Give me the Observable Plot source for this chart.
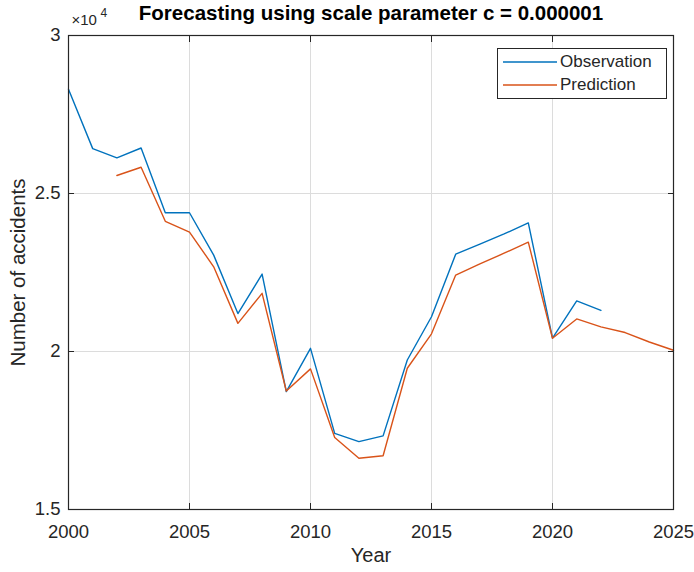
<!DOCTYPE html>
<html>
<head>
<meta charset="utf-8">
<script src="https://cdn.jsdelivr.net/npm/d3@7"></script>
<script src="https://cdn.jsdelivr.net/npm/@observablehq/plot@0.6"></script>
<style>
  html, body { margin: 0; padding: 0; background: #fff; }
  #wrap { position: relative; width: 694px; height: 572px; font-family: "Liberation Sans", Arial, sans-serif; }
  #legend { position: absolute; left: 497px; top: 48px; width: 170px; height: 51px; border: 1px solid #262626; background: #fff; box-sizing: border-box; font-size: 17px; color: #262626; }
  .item { position: absolute; left: 5px; height: 20px; display: flex; align-items: center; }
  .item svg { margin-right: 3px; }
</style>
</head>
<body>
<div id="wrap"></div>
<script>
const title = "Forecasting using scale parameter c = 0.000001";
const xLabel = "Year";
const yLabel = "Number of accidents";
const seriesNames = ["Observation", "Prediction"];
const seriesColors = ["#0072BD", "#D95319"];

const obsYears = [2000, 2001, 2002, 2003, 2004, 2005, 2006, 2007, 2008, 2009, 2010, 2011, 2012, 2013, 2014, 2015, 2016, 2017, 2018, 2019, 2020, 2021, 2022];
const obsValues = [28300, 26420, 26130, 26440, 24390, 24390, 23050, 21200, 22450, 18730, 20100, 17410, 17150, 17330, 19730, 21100, 23080, 23400, 23720, 24070, 20420, 21600, 21300];

const predYears = [2002, 2003, 2004, 2005, 2006, 2007, 2008, 2009, 2010, 2011, 2012, 2013, 2014, 2015, 2016, 2017, 2018, 2019, 2020, 2021, 2022, 2023, 2024, 2025];
const predValues = [25570, 25830, 24120, 23780, 22680, 20890, 21840, 18750, 19450, 17280, 16620, 16700, 19470, 20560, 22420, 22770, 23110, 23460, 20420, 21030, 20780, 20600, 20300, 20040];

const xTicks = [2000, 2005, 2010, 2015, 2020, 2025];
const yTicks = [15000, 20000, 25000, 30000];
const yTickLabels = ["1.5", "2", "2.5", "3"];
const exponentBase = "\u00d710";
const exponent = "4";

const obs = obsYears.map((y, i) => ({year: y, value: obsValues[i]}));
const pred = predYears.map((y, i) => ({year: y, value: predValues[i]}));

const ink = "#262626";
const grid = "#dcdcdc";

const chart = Plot.plot({
  width: 694,
  height: 572,
  marginLeft: 68,
  marginRight: 21,
  marginTop: 35,
  marginBottom: 63,
  style: {fontFamily: "'Liberation Sans', Arial, sans-serif", background: "#fff", color: ink},
  x: {domain: [2000, 2025], ticks: xTicks, label: null},
  y: {domain: [15000, 30000], ticks: yTicks, label: null},
  marks: [
    Plot.gridX(xTicks, {stroke: grid, strokeOpacity: 1}),
    Plot.gridY(yTicks, {stroke: grid, strokeOpacity: 1}),
    Plot.line(obs, {x: "year", y: "value", stroke: seriesColors[0], strokeWidth: 1.4}),
    Plot.line(pred, {x: "year", y: "value", stroke: seriesColors[1], strokeWidth: 1.4}),
    Plot.frame({stroke: ink, strokeWidth: 1.2}),
    // inward ticks on all four sides
    Plot.axisX(xTicks, {anchor: "bottom", tickSize: -6, text: null, stroke: ink, label: null}),
    Plot.axisX(xTicks, {anchor: "top", tickSize: -6, text: null, stroke: ink, label: null}),
    Plot.axisY(yTicks, {anchor: "left", tickSize: -6, text: null, stroke: ink, label: null}),
    Plot.axisY(yTicks, {anchor: "right", tickSize: -6, text: null, stroke: ink, label: null}),
    // tick labels
    Plot.axisX(xTicks, {anchor: "bottom", tickSize: 0, tickPadding: 15, fontSize: 18.5, fill: ink, label: null, tickFormat: d => String(d)}),
    Plot.axisY(yTicks, {anchor: "left", tickSize: 0, tickPadding: 8, fontSize: 18.5, fill: ink, label: null, tickFormat: d => yTickLabels[yTicks.indexOf(d)]}),
    // axis labels
    Plot.text([xLabel], {frameAnchor: "bottom", dy: 46, fontSize: 20, fill: ink, textAnchor: "middle", lineAnchor: "middle"}),
    Plot.text([yLabel], {frameAnchor: "left", dx: -50, rotate: -90, fontSize: 20.5, fill: ink, textAnchor: "middle", lineAnchor: "middle"}),
    // title
    Plot.text([title], {frameAnchor: "top", dy: -22, fontSize: 20.5, fontWeight: "bold", fill: "#000", textAnchor: "middle", lineAnchor: "middle"}),
    // exponent
    Plot.text([exponentBase], {frameAnchor: "top-left", dx: 3, dy: -15, fontSize: 15, fill: ink, textAnchor: "start", lineAnchor: "middle"}),
    Plot.text([exponent], {frameAnchor: "top-left", dx: 32, dy: -22, fontSize: 12, fill: ink, textAnchor: "start", lineAnchor: "middle"})
  ]
});

const wrap = document.getElementById("wrap");
wrap.appendChild(chart);

const legend = document.createElement("div");
legend.id = "legend";
seriesNames.forEach((name, i) => {
  const item = document.createElement("div");
  item.className = "item";
  item.style.top = (3 + i * 23) + "px";
  item.innerHTML = `<svg width="54" height="4"><line x1="0" y1="2" x2="54" y2="2" stroke="${seriesColors[i]}" stroke-width="1.4"/></svg><span>${name}</span>`;
  legend.appendChild(item);
});
wrap.appendChild(legend);
</script>
</body>
</html>
